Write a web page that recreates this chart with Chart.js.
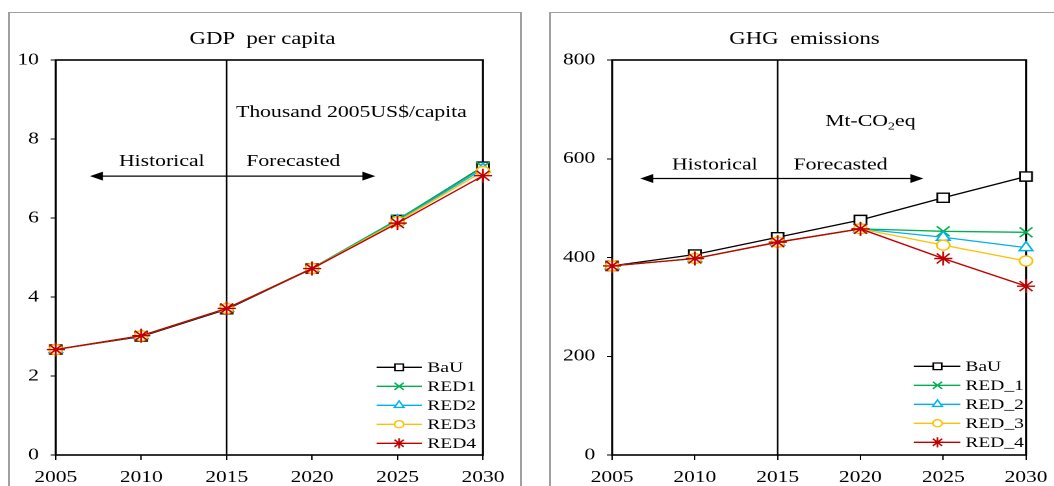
<!DOCTYPE html>
<html>
<head>
<meta charset="utf-8">
<script src="https://cdn.jsdelivr.net/npm/chart.js@4.4.1/dist/chart.umd.min.js"></script>
<style>
  html, body { margin: 0; padding: 0; background: #fff; overflow: hidden; width: 1054px; height: 486px; }
  .panel { position: absolute; top: 12px; height: 500px; box-sizing: border-box;
           border: 1px solid #a0a0a0; border-left-width: 2px; border-right-width: 2px; }
  /* the original picture is stretched sideways, so each chart is too */
  .wrap { position: absolute; top: 12px; height: 490px; transform: scaleX(1.3); transform-origin: 0 0; }
</style>
</head>
<body>
<div class="panel" style="left:8px;width:514px"></div>
<div class="panel" style="left:549px;width:520px"></div>
<div class="wrap" style="left:9px;width:394px"><canvas id="gdpChart"></canvas></div>
<div class="wrap" style="left:551px;width:400px"><canvas id="ghgChart"></canvas></div>

<script>
"use strict";

// Years on the x axis
const years = [2005, 2010, 2015, 2020, 2025, 2030];

// GDP per capita, thousand 2005US$/capita
const gdpBaU  = [2.67, 3.00, 3.69, 4.72, 5.95, 7.30];
const gdpRed1 = [2.67, 3.02, 3.71, 4.73, 5.96, 7.29];
const gdpRed2 = [2.67, 3.02, 3.71, 4.72, 5.93, 7.24];
const gdpRed3 = [2.67, 3.02, 3.71, 4.72, 5.91, 7.18];
const gdpRed4 = [2.67, 3.02, 3.71, 4.72, 5.87, 7.07];
const gdpTicks = [0, 2, 4, 6, 8, 10];

// GHG emissions, Mt-CO2eq
const ghgBaU  = [383, 406, 441, 476, 521, 564];
const ghgRed1 = [383, 398, 431, 458, 453, 451];
const ghgRed2 = [383, 398, 431, 458, 441, 420];
const ghgRed3 = [383, 398, 431, 458, 425, 393];
const ghgRed4 = [383, 398, 431, 458, 398, 342];
const ghgTicks = [0, 200, 400, 600, 800];

const gdpNames = ['BaU', 'RED1', 'RED2', 'RED3', 'RED4'];
const ghgNames = ['BaU', 'RED_1', 'RED_2', 'RED_3', 'RED_4'];

var serif = '"Liberation Serif", "Times New Roman", serif';
var colors = ['#000000', '#00b050', '#00b0f0', '#ffc000', '#c00000'];
var styles = ['rect', 'crossRot', 'triangle', 'circle', 'star'];
var radii = [6.5, 7, 6, 5, 7];

var makeSets = function (names, series) {
    return series.map(function (values, i) {
        return {
            label: names[i],
            data: years.map(function (yr, k) { return { x: yr, y: values[k] }; }),
            borderColor: colors[i],
            backgroundColor: '#fff',
            borderWidth: 1.3,
            pointStyle: styles[i],
            pointRadius: radii[i],
            pointHoverRadius: radii[i],
            pointBorderColor: colors[i],
            pointBackgroundColor: '#fff',
            pointBorderWidth: 1.4,
            order: series.length - i,
            clip: false,
            tension: 0
        };
    });
};

// vertical divider, frame, arrow, notes, title and legend
var decorPlugin = {
    id: 'decor',
    beforeDatasetsDraw: function (chart, args, o) {
        var ctx = chart.ctx, a = chart.chartArea, sx = chart.scales.x, sy = chart.scales.y;
        ctx.save();
        ctx.strokeStyle = '#000';
        ctx.fillStyle = '#000';
        ctx.lineWidth = 1.2;
        var xd = sx.getPixelForValue(o.divider);
        ctx.beginPath(); ctx.moveTo(xd, a.top); ctx.lineTo(xd, a.bottom); ctx.stroke();
        ctx.lineWidth = 1.6;
        ctx.strokeRect(a.left, a.top, a.right - a.left, a.bottom - a.top);

        // double arrow
        var x0 = sx.getPixelForValue(o.arrow.from), x1 = sx.getPixelForValue(o.arrow.to);
        var ya = sy.getPixelForValue(o.arrow.y);
        ctx.lineWidth = 1.3;
        ctx.beginPath(); ctx.moveTo(x0 + 8, ya); ctx.lineTo(x1 - 8, ya); ctx.stroke();
        ctx.beginPath(); ctx.moveTo(x0, ya); ctx.lineTo(x0 + 10, ya - 4.5); ctx.lineTo(x0 + 10, ya + 4.5); ctx.closePath(); ctx.fill();
        ctx.beginPath(); ctx.moveTo(x1, ya); ctx.lineTo(x1 - 10, ya - 4.5); ctx.lineTo(x1 - 10, ya + 4.5); ctx.closePath(); ctx.fill();
        ctx.restore();
    },
    afterDraw: function (chart, args, o) {
        var ctx = chart.ctx, a = chart.chartArea, sx = chart.scales.x, sy = chart.scales.y;
        ctx.save();
        ctx.fillStyle = '#000';
        ctx.textBaseline = 'alphabetic';

        ctx.font = '17.5px ' + serif;
        ctx.textAlign = 'center';
        ctx.fillText(o.title, o.titleX, o.titleY);

        ctx.font = '16.7px ' + serif;
        o.notes.forEach(function (n) {
            ctx.fillText(n.text, sx.getPixelForValue(n.x), sy.getPixelForValue(n.y));
        });

        // unit note, may hold a subscript part
        var ux = sx.getPixelForValue(o.unit.x), uy = sy.getPixelForValue(o.unit.y);
        var parts = o.unit.parts;
        var widths = parts.map(function (p) {
            ctx.font = (p.sub ? '11px ' : '16.7px ') + serif;
            return ctx.measureText(p.text).width;
        });
        var total = widths.reduce(function (s, w) { return s + w; }, 0);
        var cx = ux - total / 2;
        ctx.textAlign = 'left';
        parts.forEach(function (p, i) {
            ctx.font = (p.sub ? '11px ' : '16.7px ') + serif;
            ctx.fillText(p.text, cx, uy + (p.sub ? 3.5 : 0));
            cx += widths[i];
        });

        // legend
        var L = o.legend;
        chart.data.datasets.forEach(function (ds, i) {
            var ry = L.y0 + i * L.dy;
            ctx.strokeStyle = ds.borderColor;
            ctx.lineWidth = 1.3;
            ctx.beginPath();
            ctx.moveTo(a.right + L.lineFrom, ry);
            ctx.lineTo(a.right + L.lineTo, ry);
            ctx.stroke();
            ctx.fillStyle = '#fff';
            Chart.helpers.drawPoint(ctx, {
                pointStyle: ds.pointStyle, radius: ds.pointRadius * 0.72,
                borderWidth: 1.3, rotation: 0
            }, a.right + L.mark, ry);
            ctx.fillStyle = '#000';
            ctx.font = '15px ' + serif;
            ctx.textAlign = 'left';
            ctx.textBaseline = 'middle';
            ctx.fillText(ds.label, a.right + L.text, ry + 1);
        });
        ctx.restore();
    }
};

var makeChart = function (id, names, series, ticks, axisWidth, rightPad, decor) {
    var tickFont = { family: serif, size: 16.5 };
    return new Chart(document.getElementById(id), {
        type: 'line',
        data: { datasets: makeSets(names, series) },
        options: {
            responsive: true,
            maintainAspectRatio: false,
            devicePixelRatio: 2,
            animation: false,
            events: [],
            layout: { padding: { top: 48, right: rightPad, left: 0, bottom: 0 } },
            plugins: {
                legend: { display: false },
                tooltip: { enabled: false },
                decor: decor
            },
            scales: {
                x: {
                    type: 'linear',
                    min: years[0],
                    max: years[years.length - 1],
                    ticks: {
                        stepSize: 5, color: '#000', font: tickFont, padding: 8,
                        maxRotation: 0, callback: function (v) { return String(v); }
                    },
                    grid: { drawOnChartArea: false, drawTicks: true, tickLength: 5, color: '#000', lineWidth: 1 },
                    border: { display: false },
                    afterFit: function (s) { s.height = 47; }
                },
                y: {
                    min: ticks[0],
                    max: ticks[ticks.length - 1],
                    ticks: { stepSize: ticks[1] - ticks[0], color: '#000', font: tickFont, padding: 9 },
                    grid: { drawOnChartArea: false, drawTicks: true, tickLength: 4, color: '#000', lineWidth: 1 },
                    border: { display: false },
                    afterFit: function (s) { s.width = axisWidth; }
                }
            }
        },
        plugins: [decorPlugin]
    });
};

makeChart('gdpChart', gdpNames, [gdpBaU, gdpRed1, gdpRed2, gdpRed3, gdpRed4], gdpTicks, 36, 29.4, {
    title: 'GDP  per capita', titleX: 195, titleY: 32,
    divider: 2015,
    arrow: { from: 2007.0, to: 2023.7, y: 7.06 },
    notes: [
        { text: 'Historical', x: 2011.2, y: 7.32 },
        { text: 'Forecasted', x: 2018.9, y: 7.32 }
    ],
    unit: { x: 2022.3, y: 8.56, parts: [{ text: 'Thousand 2005US$/capita' }] },
    legend: { lineFrom: -81.8, lineTo: -47.1, mark: -64.5, text: -42.8, y0: 355.3, dy: 19 }
});

makeChart('ghgChart', ghgNames, [ghgBaU, ghgRed1, ghgRed2, ghgRed3, ghgRed4], ghgTicks, 47, 34.6, {
    title: 'GHG  emissions', titleX: 195, titleY: 32,
    divider: 2015,
    arrow: { from: 2006.7, to: 2023.8, y: 560 },
    notes: [
        { text: 'Historical', x: 2011.2, y: 578 },
        { text: 'Forecasted', x: 2018.8, y: 578 }
    ],
    unit: { x: 2020.6, y: 666, parts: [{ text: 'Mt-CO' }, { text: '2', sub: true }, { text: 'eq' }] },
    legend: { lineFrom: -86.4, lineTo: -50.6, mark: -68.1, text: -46.7, y0: 354.3, dy: 19 }
});
</script>
</body>
</html>
